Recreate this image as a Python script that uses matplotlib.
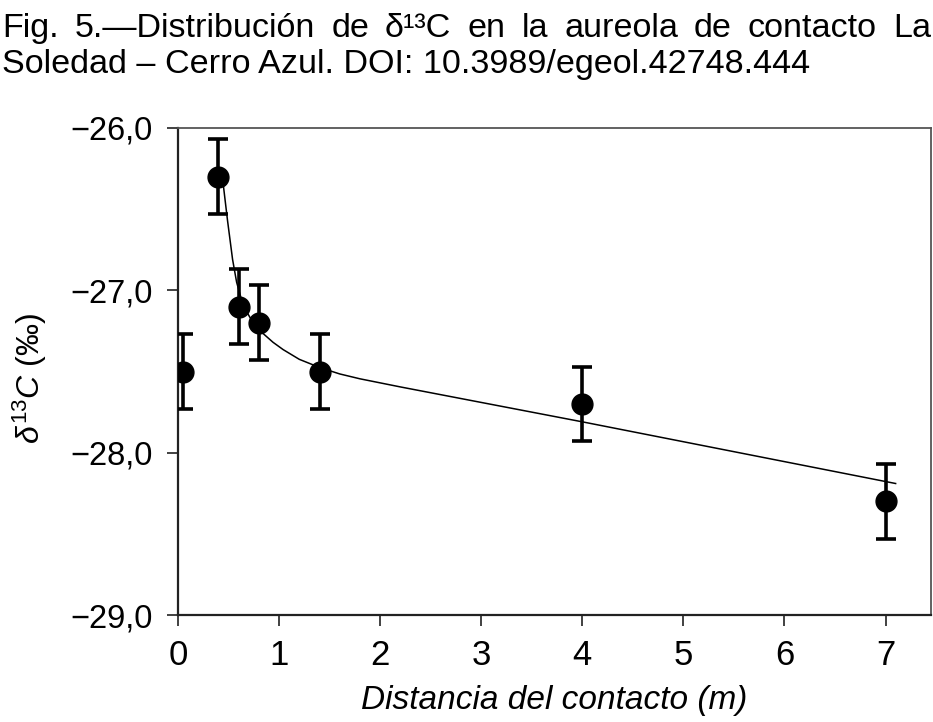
import matplotlib
matplotlib.use("Agg")
import matplotlib.pyplot as plt
from matplotlib import font_manager as fm
from matplotlib.ticker import FuncFormatter

# ---------------- data ----------------
distance = [0.05, 0.40, 0.60, 0.80, 1.40, 4.00, 7.00]
d13c = [-27.50, -26.30, -27.10, -27.20, -27.50, -27.70, -28.30]
d13c_err = [0.23, 0.23, 0.23, 0.23, 0.23, 0.23, 0.23]

curve_x = [0.42, 0.45, 0.49, 0.54, 0.58, 0.625, 0.67, 0.71, 0.76, 0.84, 0.94, 1.04,
           1.20, 1.40, 1.60, 1.80, 2.20, 4.00, 7.10]
curve_y = [-26.28, -26.36, -26.57, -26.81, -26.95, -27.05, -27.12, -27.165, -27.21,
           -27.265, -27.32, -27.365, -27.425, -27.475, -27.515, -27.545, -27.595,
           -27.81, -28.19]

x_ticks = [0, 1, 2, 3, 4, 5, 6, 7]
y_ticks = [-29.0, -28.0, -27.0, -26.0]

title_line1 = ["Fig.", "5.\u2014Distribuci\u00f3n", "de", "\u03b4\u00b9\u00b3C", "en", "la",
               "aureola", "de", "contacto", "La"]
title_line2 = "Soledad \u2013 Cerro Azul. DOI: 10.3989/egeol.42748.444"
x_label = "Distancia del contacto (m)"
y_label = r"$\delta^{\mathit{13}}C$ (‰)"

# ---------------- fonts ----------------
names = {f.name for f in fm.fontManager.ttflist}
regular = "Liberation Sans" if "Liberation Sans" in names else "DejaVu Sans"
narrow = "Liberation Sans Narrow" if "Liberation Sans Narrow" in names else regular
plt.rcParams["font.family"] = [regular, "DejaVu Sans"]
plt.rcParams["mathtext.fontset"] = "custom"
plt.rcParams["mathtext.rm"] = regular
plt.rcParams["mathtext.it"] = regular + ":italic"

fig = plt.figure(figsize=(9.33, 7.22), dpi=100)
ax = fig.add_axes([178 / 933, (722 - 615) / 722, (931 - 178) / 933, (615 - 128) / 722])

ax.plot(curve_x, curve_y, color="black", lw=1.1, zorder=2)
ax.errorbar(distance, d13c, yerr=d13c_err, fmt="o", color="black", ms=15,
            elinewidth=2.6, capsize=7.5, capthick=2.6, zorder=3)

ax.set_xlim(0, 7.45)
ax.set_ylim(-29.0, -26.0)
ax.set_xticks(x_ticks)
ax.set_yticks(y_ticks)
ax.yaxis.set_major_formatter(FuncFormatter(lambda v, p: ("\u2212" if v < 0 else "") + f"{abs(v):.1f}".replace(".", ",")))
ax.tick_params(axis="both", direction="out", length=8, width=1.3, color="#333333")
ax.tick_params(axis="y", pad=10, labelsize=23.5)
ax.tick_params(axis="x", pad=9, labelsize=25)
for lab in ax.get_xticklabels():
    lab.set_family([narrow, "DejaVu Sans"])

for s in ["left", "bottom"]:
    ax.spines[s].set_linewidth(1.6)
    ax.spines[s].set_color("#222222")
for s in ["top", "right"]:
    ax.spines[s].set_linewidth(1.3)
    ax.spines[s].set_color("#555555")

ax.set_xlabel(x_label, fontsize=24, style="italic", family=[narrow, "DejaVu Sans"], labelpad=10)
fig.text(30 / 933, 1 - 378 / 722, y_label, rotation=90, fontsize=23,
         ha="center", va="center")

# ---------------- justified title ----------------
fs_title = 24.6
y1 = 1 - 37 / 722
y2 = 1 - 73 / 722
words = [fig.text(0, y1, w, fontsize=fs_title, family=[narrow, "DejaVu Sans"], ha="left", va="baseline")
         for w in title_line1]
fig.canvas.draw()
r = fig.canvas.get_renderer()
widths = [t.get_window_extent(r).width for t in words]
left_px, right_px = 2, 931
gap = (right_px - left_px - sum(widths)) / (len(words) - 1)
xpos = left_px
for t, w in zip(words, widths):
    t.set_x(xpos / 933)
    xpos += w + gap
fig.text(2 / 933, y2, title_line2, fontsize=fs_title, family=[narrow, "DejaVu Sans"],
         ha="left", va="baseline")

fig.savefig("out.png", dpi=100)
